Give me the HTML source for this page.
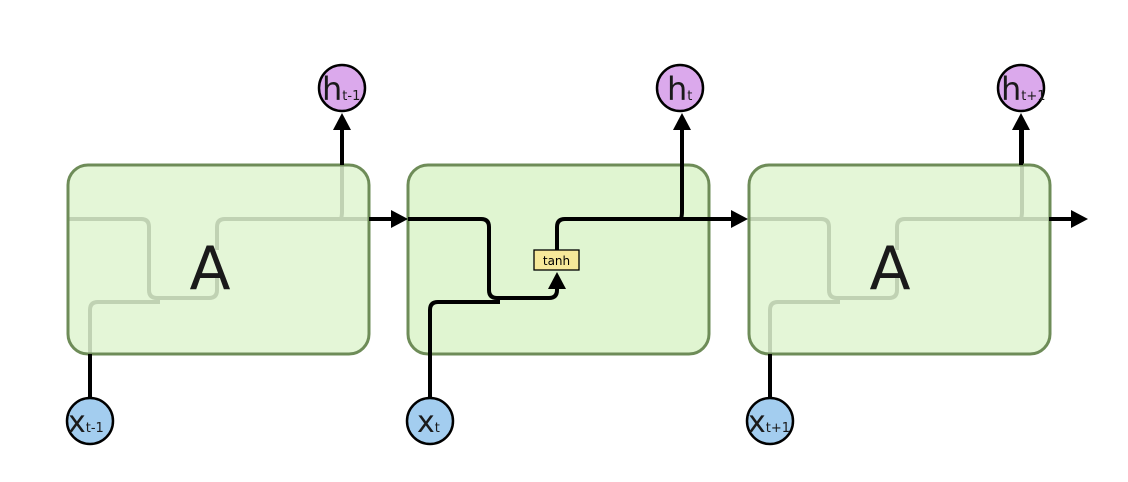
<!DOCTYPE html>
<html><head><meta charset="utf-8"><style>
html,body{margin:0;padding:0;background:#fff;}
svg{display:block;}
text{font-family:"DejaVu Sans","Liberation Sans",sans-serif;}
</style></head><body>
<svg width="1128" height="482" viewBox="0 0 1128 482" xmlns="http://www.w3.org/2000/svg">
<defs>
<marker id="ar" markerWidth="10" markerHeight="10" refX="8" refY="5" orient="auto" markerUnits="userSpaceOnUse" viewBox="0 0 10 10">
</marker>
<g id="net" fill="none" stroke="#000" stroke-width="4" stroke-linejoin="round">
<path d="M408,219 H481 Q489,219 489,227 V290 Q489,298 497,298 H549 Q557,298 557,290 V276"/>
<path d="M430,397 V310 Q430,302 438,302 H500"/>
<path d="M557,250 V227 Q557,219 565,219 H735"/>
<path d="M680,219 Q682,219 682,211 V128"/>
</g>
</defs>

<!-- faded internal nets under boxes 1 and 3 -->
<use href="#net" transform="translate(-340,0)"/>
<use href="#net" transform="translate(340,0)"/>
<path d="M68,219 H70" stroke="#000" stroke-width="4"/>

<!-- box 1 -->
<rect x="68" y="165" width="301" height="189" rx="20" fill="#e0f5d1" fill-opacity="0.86" stroke="#6e8c58" stroke-width="3"/>
<text x="210" y="289" font-size="60" text-anchor="middle" fill="#1a1a1a">A</text>
<!-- box 3 -->
<rect x="749" y="165" width="301" height="189" rx="20" fill="#e0f5d1" fill-opacity="0.86" stroke="#6e8c58" stroke-width="3"/>
<text x="890" y="289" font-size="60" text-anchor="middle" fill="#1a1a1a">A</text>
<!-- box 2 -->
<rect x="408" y="165" width="301" height="189" rx="20" fill="#e0f5d1" stroke="#6e8c58" stroke-width="3"/>

<!-- external lines -->
<g stroke="#000" stroke-width="4" fill="none">
<path d="M342,165 V128"/>
<path d="M369,219 H394"/>
<path d="M90,354 V397"/>
<path d="M1021,165 V128"/>
<path d="M1049,219 H1075"/>
<path d="M770,354 V397"/>
</g>
<use href="#net"/>

<!-- arrowheads -->
<g fill="#000">
<polygon points="342,113 333,130 351,130"/>
<polygon points="682,113 673,130 691,130"/>
<polygon points="1021,113 1012,130 1030,130"/>
<polygon points="408,219 391,210 391,228"/>
<polygon points="748,219 731,210 731,228"/>
<polygon points="1088,219 1071,210 1071,228"/>
<polygon points="557,272 548,289 566,289"/>
</g>

<!-- tanh -->
<rect x="534" y="250" width="45" height="20" fill="#f7e99a" stroke="#000" stroke-width="1.3"/>
<text x="556.5" y="265" font-size="12" text-anchor="middle" fill="#000">tanh</text>

<!-- h circles -->
<g stroke="#000" stroke-width="2.5" fill="#dba9ec">
<circle cx="342" cy="88" r="23"/>
<circle cx="680" cy="88" r="23"/>
<circle cx="1021" cy="88" r="23"/>
</g>
<g fill="#1a1a1a">
<text x="322" y="100" font-size="32">h<tspan font-size="13" dy="0">t-1</tspan></text>
<text x="667" y="100" font-size="32">h<tspan font-size="13">t</tspan></text>
<text x="1001" y="100" font-size="32">h<tspan font-size="13">t+1</tspan></text>
</g>
<!-- x circles -->
<g stroke="#000" stroke-width="2.5" fill="#a3cdef">
<circle cx="90" cy="421" r="23"/>
<circle cx="430" cy="421" r="23"/>
<circle cx="770" cy="421" r="23"/>
</g>
<g fill="#1a1a1a">
<text x="68" y="432" font-size="30">x<tspan font-size="13">t-1</tspan></text>
<text x="417" y="432" font-size="30">x<tspan font-size="13">t</tspan></text>
<text x="748" y="432" font-size="30">x<tspan font-size="13">t+1</tspan></text>
</g>
</svg>
</body></html>
